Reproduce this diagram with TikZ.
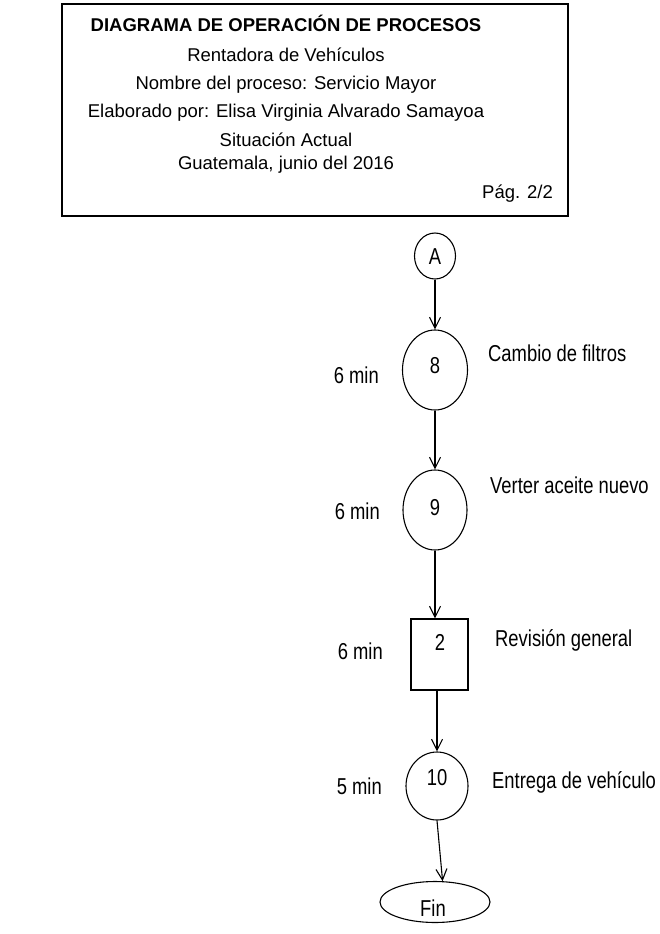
\documentclass[tikz,border=0pt]{standalone}
\usepackage{fontspec}
\setmainfont{Liberation Sans}
\newfontfamily\flowfont{Liberation Sans}[FakeStretch=0.8]
\usetikzlibrary{shapes.geometric,arrows.meta}

\tikzset{
  ln/.style={line width=1.1pt, draw=black},
  opcirc/.style={ln, ellipse, inner sep=0pt},
  inspbox/.style={ln, rectangle, inner sep=0pt, minimum width=57pt, minimum height=71pt},
  flow/.style={ln, -{Straight Barb[length=11pt,width=11pt,line width=1.1pt]}},
  txt/.style={font=\fontsize{18.5pt}{22pt}\selectfont, inner sep=0pt, text height=13pt, text depth=0pt},
  ftxt/.style={font=\flowfont\fontsize{23pt}{26pt}\selectfont, inner sep=0pt, text height=16.5pt, text depth=0pt},
  head/.style={txt, anchor=center},
  headbold/.style={txt, anchor=center, font=\fontsize{18.5pt}{22pt}\selectfont\bfseries},
  desc/.style={ftxt, anchor=west},
  tm/.style={ftxt, anchor=east}
}

\begin{document}
\begin{tikzpicture}[x=1pt,y=-1pt]
\useasboundingbox (0,0) rectangle (660,934);
\fill[white] (0,0) rectangle (660,934);

% title block
\node[ln, rectangle, minimum width=506pt, minimum height=212pt, inner sep=0pt] (frame) at (315,110) {};
\node[headbold] (t1) at (286,25) {DIAGRAMA DE OPERACIÓN DE PROCESOS};
\node[head] (t2) at (286,55) {Rentadora de Vehículos};
\node[head] (t3) at (286,83) {Nombre del proceso: Servicio Mayor};
\node[head] (t4) at (286,111) {Elaborado por: Elisa Virginia Alvarado Samayoa};
\node[head] (t5) at (286,140) {Situación Actual};
\node[head] (t6) at (286,163) {Guatemala, junio del 2016};
\node[txt, anchor=east] (pg) at (553,192) {Pág. 2/2};

% process symbols
\node[opcirc, minimum width=41pt, minimum height=46pt] (A) at (435,256) {};
\node[ftxt] at (435,256) {A};

\node[opcirc, minimum width=65pt, minimum height=80pt] (n8) at (435,370) {};
\node[ftxt] at (435,365) {8};

\node[opcirc, minimum width=64pt, minimum height=80pt] (n9) at (435,510) {};
\node[ftxt] at (435,507) {9};

\node[inspbox] (r2) at (439.5,654.5) {};
\node[ftxt] at (440,642) {2};

\node[opcirc, minimum width=62pt, minimum height=68pt] (n10) at (437,786) {};
\node[ftxt] at (437,777) {10};

\node[opcirc, minimum width=110pt, minimum height=41pt] (fin) at (435,902) {};
\node[ftxt] at (433,908) {Fin};

% connectors
\draw[flow] (A) -- (n8);
\draw[flow] (n8) -- (n9);
\draw[flow] (n9.south) -- (n9.south |- r2.north);
\draw[flow] (r2.south -| n10) -- (n10.north);
\draw[flow] (n10.south) -- (fin.70);

% descriptions
\node[desc] (d8) at (488,353) {Cambio de filtros};
\node[desc] (d9) at (490,485) {Verter aceite nuevo};
\node[desc] (d2) at (495,638) {Revisión general};
\node[desc] (d10) at (492,780) {Entrega de vehículo};

% times
\node[tm] (m8) at (379,375) {6 min};
\node[tm] (m9) at (380,511) {6 min};
\node[tm] (m2) at (383,651) {6 min};
\node[tm] (m10) at (382,786) {5 min};
\end{tikzpicture}
\end{document}
